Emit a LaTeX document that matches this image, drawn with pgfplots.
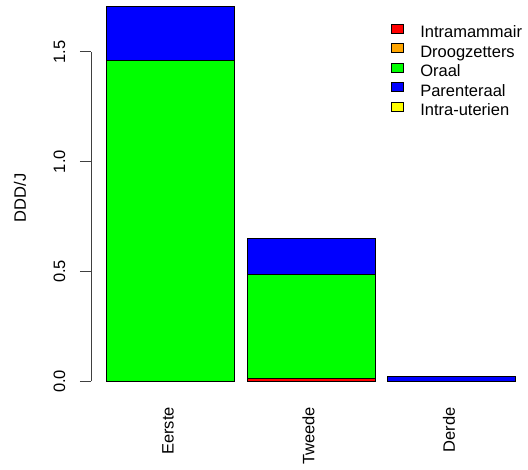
\documentclass[border=0pt]{standalone}
\usepackage{pgfplots}
\pgfplotsset{compat=1.18}
\usepackage{fontspec}
\setmainfont{Liberation Sans}
\definecolor{cred}{RGB}{255,0,0}
\definecolor{corange}{RGB}{255,165,0}
\definecolor{cgreen}{RGB}{0,255,0}
\definecolor{cblue}{RGB}{0,0,255}
\definecolor{cyellow}{RGB}{255,255,0}
\begin{document}
\begin{tikzpicture}
\path[use as bounding box] (0,0) rectangle (528pt,470pt);
\begin{axis}[
  at={(91pt,74pt)}, anchor=south west,
  scale only axis, width=437pt, height=396pt,
  xmin=-0.566, xmax=2.544, ymin=-0.0665, ymax=1.7356,
  ybar stacked, bar width=0.909,
  font=\fontsize{16.5}{19}\selectfont,
  /pgf/number format/assume math mode=true,
  axis line style={draw=none},
  xtick={0,1,2}, xticklabels={Eerste,Tweede,Derde},
  xtick style={draw=none},
  xticklabel style={rotate=90, anchor=east, inner sep=0pt, yshift=2.5pt},
  ytick={0,0.5,1,1.5}, yticklabels={0.0,0.5,1.0,1.5},
  ytick pos=left, xtick pos=bottom,
  tick align=outside, major tick length=11pt,
  ytick style={line width=0.8pt, black!75},
  yticklabel style={rotate=90, anchor=south, inner sep=0pt, yshift=14.5pt},
  ylabel={DDD/J},
  every axis y label/.style={at={(axis description cs:-0.1625,0.5)}, rotate=90, anchor=center},
  legend image code/.code={\draw[#1, draw=black, line width=0.6pt] (0pt,0.5pt) rectangle (12.6pt,9.8pt);
    \path[draw=none, fill=none] (0pt,0pt) rectangle (29.3pt,0.1pt);},
  legend cell align=left,
  legend style={at={(axis description cs:0.6858,0.9405)}, anchor=north west, draw=none, fill=none,
    inner sep=0pt, outer sep=0pt, row sep=1.4pt,
    nodes={inner sep=0pt, text height=12pt, text depth=4pt}},
  every axis plot/.append style={draw=black, line width=0.7pt},
]
\addplot[fill=cred] coordinates {(0,0) (1,0.015) (2,0)};
\addplot[fill=corange] coordinates {(0,0) (1,0) (2,0)};
\addplot[fill=cgreen] coordinates {(0,1.459) (1,0.470) (2,0)};
\addplot[fill=cblue] coordinates {(0,0.248) (1,0.165) (2,0.021)};
\addplot[fill=cyellow] coordinates {(0,0) (1,0) (2,0)};
\legend{Intramammair,Droogzetters,Oraal,Parenteraal,Intra-uterien}
\draw[line width=0.8pt, black!75] (axis cs:-0.566,0) -- (axis cs:-0.566,1.5);
\end{axis}
\end{tikzpicture}
\end{document}
